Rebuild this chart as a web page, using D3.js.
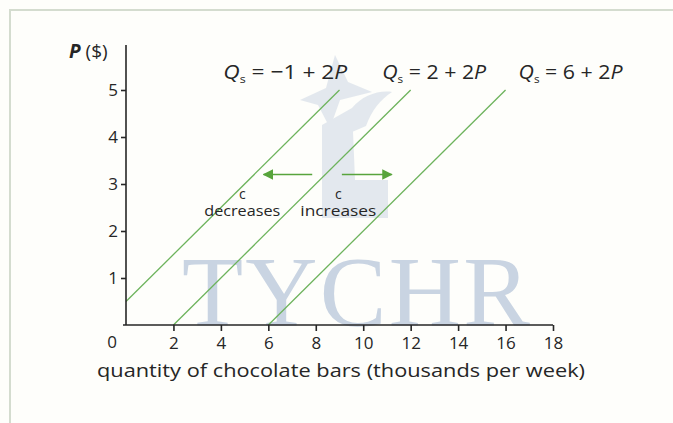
<!DOCTYPE html>
<html>
<head>
<meta charset="utf-8">
<script src="https://cdn.jsdelivr.net/npm/d3@7"></script>
<style>
  body { margin: 0; background: #fefefb; }
  svg { display: block; font-family: "Open Sans", sans-serif; }
</style>
</head>
<body>
<div id="chart"></div>
<script>
// supply curves Qs = c + 2P, drawn for 0 <= P <= 5
const intercepts = [-1, 2, 6];
const curveLabels = ["−1 + 2", "2 + 2", "6 + 2"];
const labelQ = [4.1, 10.8, 16.55]; // where each equation label starts (Q units)
const xTicks = [2, 4, 6, 8, 10, 12, 14, 16, 18];
const yTicks = [1, 2, 3, 4, 5];
const arrows = [
  {from: 7.85, to: 5.8, p: 3.2, word: "decreases", at: 4.9},
  {from: 9.1, to: 11.2, p: 3.2, word: "increases", at: 8.95}
];

const width = 673, height = 423;
const x = d3.scaleLinear([0, 18], [126, 553]);
const y = d3.scaleLinear([0, 5], [325, 90]);
const ink = "#262626", green = "#6db35c", arrowGreen = "#58a43c";

const svg = d3.select("#chart").append("svg")
    .attr("width", width)
    .attr("height", height)
    .attr("viewBox", [0, 0, width, height]);

svg.append("rect").attr("width", width).attr("height", height).attr("fill", "#fefefb");

// frame of the figure box
svg.append("path")
    .attr("d", `M10,${height}V10H${width}`)
    .attr("fill", "none")
    .attr("stroke", "#d4dccf")
    .attr("stroke-width", 2);

// watermark: faint logo and name
const mark = svg.append("g").attr("fill", "#c9d4e2").attr("opacity", 0.5);
mark.append("path").attr("d", "M322,125L352,108L355,180L388,180L388,218L322,218Z");
mark.append("path").attr("d", "M335,55L348,82L372,92L340,100L330,128L318,105L300,100L326,88Z");
mark.append("path").attr("d", "M352,108C362,96 378,90 392,92C380,100 372,110 366,126L352,132Z");
svg.append("text")
    .attr("x", 182).attr("y", 325)
    .attr("font-family", "Liberation Serif, serif")
    .attr("font-size", 100)
    .attr("textLength", 348)
    .attr("fill", "#c9d4e2")
    .text("TYCHR");

// supply lines
const lines = intercepts.map(c => {
  const p0 = Math.max(0, -c / 2);
  return [[c + 2 * p0, p0], [c + 2 * 5, 5]];
});
svg.append("g")
    .selectAll("line")
    .data(lines)
    .join("line")
    .attr("x1", d => x(d[0][0])).attr("y1", d => y(d[0][1]))
    .attr("x2", d => x(d[1][0])).attr("y2", d => y(d[1][1]))
    .attr("stroke", green)
    .attr("stroke-width", 1.3);

// equation labels
const eq = svg.append("g")
    .attr("fill", ink)
    .attr("font-size", 20)
    .selectAll("text")
    .data(curveLabels)
    .join("text")
    .attr("x", (d, i) => x(labelQ[i]))
    .attr("y", 79)
    .attr("textLength", (d, i) => i === 0 ? 124 : 104)
    .attr("lengthAdjust", "spacingAndGlyphs");
eq.append("tspan").attr("font-style", "italic").text("Q");
eq.append("tspan").attr("font-size", 11).attr("dy", 4).text("s");
eq.append("tspan").attr("dy", -4).text(d => " = " + d);
eq.append("tspan").attr("font-style", "italic").text("P");

// arrows
svg.append("defs").append("marker")
    .attr("id", "head")
    .attr("viewBox", "0 0 10 10")
    .attr("refX", 9).attr("refY", 5)
    .attr("markerWidth", 7).attr("markerHeight", 7)
    .attr("orient", "auto")
  .append("path")
    .attr("d", "M0,0L10,5L0,10Z")
    .attr("fill", arrowGreen);

svg.append("g")
    .selectAll("line")
    .data(arrows)
    .join("line")
    .attr("x1", d => x(d.from)).attr("x2", d => x(d.to))
    .attr("y1", d => y(d.p)).attr("y2", d => y(d.p))
    .attr("stroke", arrowGreen)
    .attr("stroke-width", 1.5)
    .attr("marker-end", "url(#head)");

const note = svg.append("g")
    .attr("fill", ink)
    .attr("font-size", 14)
    .attr("text-anchor", "middle")
    .selectAll("g")
    .data(arrows)
    .join("g");
note.append("text").attr("x", d => x(d.at)).attr("y", 199).text("c");
note.append("text").attr("x", d => x(d.at)).attr("y", 216)
    .attr("textLength", 76).attr("lengthAdjust", "spacingAndGlyphs")
    .text(d => d.word);

// axes
svg.append("g")
    .attr("transform", `translate(0,${y(0)})`)
    .call(d3.axisBottom(x).tickValues(xTicks).tickSize(6).tickFormat(d3.format("d")))
    .call(g => g.select(".domain").attr("d", `M${x(0) - 3},0H${x(18)}`))
    .call(g => g.selectAll("line, .domain").attr("stroke", ink).attr("stroke-width", 1.6))
    .call(g => g.selectAll("text").attr("fill", ink).attr("font-size", 17)
        .attr("font-family", "Open Sans, sans-serif").attr("dy", "0.9em"));

svg.append("g")
    .attr("transform", `translate(${x(0)},0)`)
    .call(d3.axisLeft(y).tickValues(yTicks).tickSize(5).tickFormat(d3.format("d")))
    .call(g => g.select(".domain").attr("d", `M0,${y(0)}V45`))
    .call(g => g.selectAll("line, .domain").attr("stroke", ink).attr("stroke-width", 1.6))
    .call(g => g.selectAll("text").attr("fill", ink).attr("font-size", 17)
        .attr("font-family", "Open Sans, sans-serif").attr("x", -8));

svg.append("text")
    .attr("x", 112).attr("y", 348)
    .attr("text-anchor", "middle")
    .attr("fill", ink).attr("font-size", 17)
    .text("0");

const pLabel = svg.append("text")
    .attr("x", 69).attr("y", 58)
    .attr("fill", ink).attr("font-size", 19);
pLabel.append("tspan").attr("font-style", "italic").attr("font-weight", "bold").text("P");
pLabel.append("tspan").text(" ($)");

svg.append("text")
    .attr("x", 97).attr("y", 377)
    .attr("fill", ink).attr("font-size", 18)
    .attr("textLength", 488).attr("lengthAdjust", "spacingAndGlyphs")
    .text("quantity of chocolate bars (thousands per week)");
</script>
</body>
</html>
